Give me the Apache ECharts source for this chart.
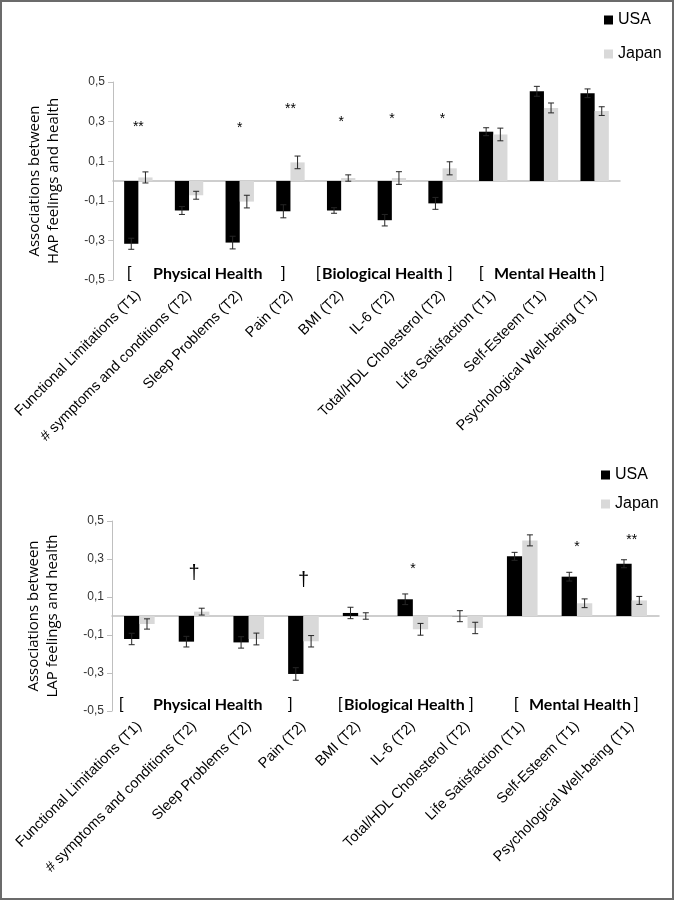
<!DOCTYPE html>
<html lang="en">
<head>
    <meta charset="UTF-8">
    <title>HAP / LAP feelings and health</title>
    <script src="https://cdn.jsdelivr.net/npm/echarts@6/dist/echarts.min.js"></script>
    <style>
        body { margin: 0; background: #fff; }
        #wrap { position: relative; width: 674px; height: 900px; }
        #hap { position: absolute; left: 0; top: 0; width: 674px; height: 450px; }
        #lap { position: absolute; left: 0; top: 450px; width: 674px; height: 450px; }
        #frame { position: absolute; left: 0; top: 0; width: 674px; height: 900px;
                 box-sizing: border-box; border: 2px solid #6b6b6b; pointer-events: none; }
    </style>
</head>
<body>
<div id="wrap">
    <div id="hap"></div>
    <div id="lap"></div>
    <div id="frame"></div>
</div>

<script>
    var categories = ['Functional Limitations (T1)', '# symptoms and conditions (T2)', 'Sleep Problems (T2)',
        'Pain (T2)', 'BMI (T2)', 'IL-6 (T2)', 'Total/HDL Cholesterol (T2)', 'Life Satisfaction (T1)',
        'Self-Esteem (T1)', 'Psychological Well-being (T1)'];
    var yTicks = [-0.5, -0.3, -0.1, 0.1, 0.3, 0.5];

    // HAP panel
    var hapUsa = [-0.317, -0.149, -0.311, -0.153, -0.149, -0.198, -0.113, 0.249, 0.453, 0.443];
    var hapUsaErr = [0.028, 0.02, 0.032, 0.033, 0.014, 0.029, 0.03, 0.02, 0.025, 0.022];
    var hapJapan = [0.018, -0.072, -0.104, 0.094, 0.015, 0.015, 0.064, 0.235, 0.369, 0.353];
    var hapJapanErr = [0.028, 0.02, 0.032, 0.032, 0.016, 0.032, 0.033, 0.032, 0.025, 0.022];
    var hapSig = ['**', '', '*', '**', '*', '*', '*', '', '', ''];
    var hapSigY = [0.272, null, 0.267, 0.364, 0.297, 0.314, 0.314, null, null, null];

    // LAP panel
    var lapUsa = [-0.121, -0.135, -0.139, -0.305, 0.016, 0.088, -0.001, 0.314, 0.207, 0.275];
    var lapUsaErr = [0.03, 0.028, 0.03, 0.033, 0.03, 0.028, 0.029, 0.021, 0.023, 0.021];
    var lapJapan = [-0.042, 0.023, -0.121, -0.133, 0.0, -0.070, -0.063, 0.398, 0.067, 0.082];
    var lapJapanErr = [0.027, 0.018, 0.031, 0.03, 0.017, 0.031, 0.03, 0.029, 0.023, 0.021];
    var lapSig = ['', '\u2020', '', '\u2020', '', '*', '', '', '*', '**'];
    var lapSigY = [null, 0.226, null, 0.188, null, 0.249, null, null, 0.363, 0.398];

    var AXIS_GRAY = '#bfbfbf';
    var SANS = '"Liberation Sans", Arial, sans-serif';

    function errorSeries(values, errs, side) {
        return {
            type: 'custom',
            z: 5,
            silent: true,
            data: values.map(function (v, i) { return [i, v, errs[i]]; }),
            renderItem: function (params, api) {
                var i = api.value(0), v = api.value(1), e = api.value(2);
                var band = api.size([1, 0])[0];
                var x = api.coord([i, 0])[0] + side * band * 0.14;
                var hi = api.coord([i, v + e])[1];
                var lo = api.coord([i, v - e])[1];
                var st = { stroke: '#262626', lineWidth: 1 };
                return {
                    type: 'group',
                    children: [
                        { type: 'line', shape: { x1: x, y1: hi, x2: x, y2: lo }, style: st },
                        { type: 'line', shape: { x1: x - 3, y1: hi, x2: x + 3, y2: hi }, style: st },
                        { type: 'line', shape: { x1: x - 3, y1: lo, x2: x + 3, y2: lo }, style: st }
                    ]
                };
            }
        };
    }

    function sigSeries(marks, ys) {
        var data = [];
        marks.forEach(function (m, i) { if (m) data.push([i, ys[i]]); });
        return {
            type: 'custom',
            z: 6,
            silent: true,
            data: data,
            renderItem: function (params, api) {
                var i = api.value(0);
                var p = api.coord([i, api.value(1)]);
                var dag = marks[i] === '\u2020';
                return {
                    type: 'text',
                    x: p[0], y: p[1],
                    style: {
                        text: marks[i], fill: '#000',
                        font: (dag ? '20px ' : '14px ') + SANS,
                        align: 'center', verticalAlign: 'middle'
                    }
                };
            }
        };
    }

    function groupLabels(y, pos) {
        var bold = { fontFamily: 'Lato', fontWeight: 'bold', fontSize: 16, fill: '#000' };
        var reg = { fontFamily: SANS, fontSize: 16, fill: '#000' };
        function t(x, txt, st) {
            return { type: 'text', left: x, top: y - 10, style: Object.assign({ text: txt }, st) };
        }
        return [
            t(pos[0], '[', reg), t(pos[1], 'Physical Health', bold), t(pos[2], ']', reg),
            t(pos[3], '[', reg), t(pos[4], 'Biological Health', bold), t(pos[5], ']', reg),
            t(pos[6], '[', reg), t(pos[7], 'Mental Health', bold), t(pos[8], ']', reg)
        ];
    }

    function buildOption(cfg) {
        return {
            animation: false,
            legend: {
                data: ['USA', 'Japan'],
                orient: 'vertical',
                left: cfg.legendLeft, top: cfg.legendTop,
                itemWidth: 9, itemHeight: 9, itemGap: cfg.legendGap,
                icon: 'rect',
                textStyle: { fontSize: 16, fontFamily: SANS, color: '#000' }
            },
            grid: { left: cfg.left, top: cfg.top, width: cfg.width, height: cfg.height },
            xAxis: [{
                type: 'category',
                data: categories,
                position: 'bottom',
                axisLine: { show: false, onZero: false },
                axisTick: { show: false },
                axisLabel: { rotate: 45, margin: 13, fontSize: 14.5, fontFamily: SANS, color: '#000',
                             interval: 0, padding: [6, 0, 0, 0] }
            }, {
                type: 'category',
                data: categories,
                position: 'bottom',
                axisLine: { onZero: true, lineStyle: { color: AXIS_GRAY, width: 1.5 } },
                axisTick: { alignWithLabel: true, length: 4, lineStyle: { color: AXIS_GRAY } },
                axisLabel: { show: false }
            }],
            yAxis: {
                type: 'value',
                min: -0.5, max: 0.5, interval: 0.2,
                name: cfg.yName,
                nameLocation: 'middle',
                nameRotate: 90,
                nameGap: 50,
                nameTextStyle: { fontSize: 15, fontFamily: 'Open Sans', color: '#000', lineHeight: 19 },
                splitLine: { show: false },
                axisLine: { show: true, lineStyle: { color: AXIS_GRAY } },
                axisTick: { show: true, length: 5, lineStyle: { color: AXIS_GRAY } },
                axisLabel: {
                    fontSize: 12, fontFamily: SANS, color: '#333', margin: 8,
                    formatter: function (v) { return v.toFixed(1).replace('.', ','); }
                }
            },
            graphic: groupLabels(cfg.groupY, cfg.groupX),
            series: [
                { name: 'USA', type: 'bar', data: cfg.usa, barWidth: '28%', barGap: '0%',
                  itemStyle: { color: '#000' } },
                { name: 'Japan', type: 'bar', data: cfg.japan, barWidth: '28%', barGap: '0%',
                  itemStyle: { color: '#d9d9d9' } },
                errorSeries(cfg.usa, cfg.usaErr, -1),
                errorSeries(cfg.japan, cfg.japanErr, 1),
                sigSeries(cfg.sig, cfg.sigY)
            ]
        };
    }

    var hapChart = echarts.init(document.getElementById('hap'));
    hapChart.setOption(buildOption({
        left: 113, top: 82, width: 507, height: 198,
        legendLeft: 599, legendTop: 7, legendGap: 18,
        yName: 'Associations between\nHAP feelings and health',
        usa: hapUsa, usaErr: hapUsaErr, japan: hapJapan, japanErr: hapJapanErr,
        sig: hapSig, sigY: hapSigY,
        groupY: 276,
        groupX: [127, 153, 281, 316, 322, 448, 479, 494, 600]
    }));

    var lapChart = echarts.init(document.getElementById('lap'));
    lapChart.setOption(buildOption({
        left: 112, top: 71, width: 547, height: 190,
        legendLeft: 596, legendTop: 12, legendGap: 13,
        yName: 'Associations between\nLAP feelings and health',
        usa: lapUsa, usaErr: lapUsaErr, japan: lapJapan, japanErr: lapJapanErr,
        sig: lapSig, sigY: lapSigY,
        groupY: 257,
        groupX: [119, 153, 288, 338, 344, 469, 514, 529, 634]
    }));
</script>
</body>
</html>
